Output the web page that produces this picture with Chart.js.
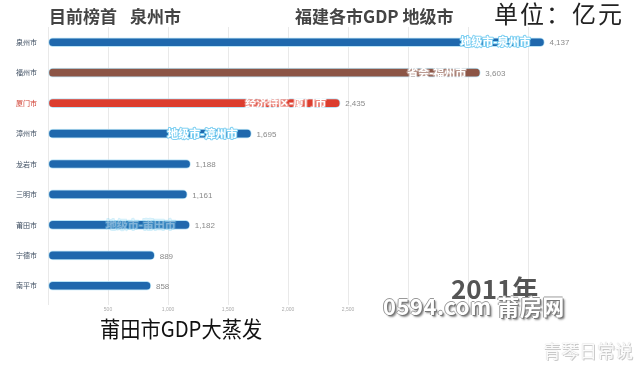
<!DOCTYPE html>
<html>
<head>
<meta charset="utf-8">
<script src="https://cdn.jsdelivr.net/npm/chart.js@4"></script>
<style>
  html, body { margin: 0; padding: 0; background: #fff; }
  #wrap { position: relative; width: 641px; height: 373px; overflow: hidden; font-family: "Noto Sans CJK SC", "Noto Sans", sans-serif; }
  #gdpChart { position: absolute; left: 0; top: 0; }
  .txt { position: absolute; white-space: nowrap; line-height: 1; }
  .head { font-weight: bold; font-size: 17px; color: #444; top: 7px; }
  #unit { left: 494px; top: 1px; font-size: 24px; color: #222; letter-spacing: 2px; }
  #year { left: 451px; top: 275px; font-size: 26px; font-weight: bold; color: #555; }
  #site { left: 383px; top: 294px; font-size: 22px; font-weight: bold; color: #fff; letter-spacing: 0.5px;
          text-shadow: 1px 1px 0 #777, -1px 0 0 #999, 0 -1px 0 #999, 2px 2px 2px #888; }
  #caption { left: 100px; top: 316px; font-size: 22px; color: #111; transform: scaleX(0.92); transform-origin: left top; }
  #mark { left: 543px; top: 341px; font-size: 18px; color: #fbfbfb;
          text-shadow: 0 0 1px #bbb, 1px 1px 0 #ccc; }
</style>
</head>
<body>
<div id="wrap">
  <canvas id="gdpChart" width="641" height="373"></canvas>
  <div class="txt head" style="left:49px">目前榜首</div>
  <div class="txt head" style="left:130px">泉州市</div>
  <div class="txt head" style="left:295px">福建各市GDP 地级市</div>
  <div class="txt" id="unit">单位：亿元</div>
  <div class="txt" id="year">2011年</div>
  <div class="txt" id="site">0594.com 莆房网</div>
  <div class="txt" id="caption">莆田市GDP大蒸发</div>
  <div class="txt" id="mark">青琴日常说</div>
</div>
<script>
// 福建各市GDP（亿元），2011年
const cities = ['泉州市', '福州市', '厦门市', '漳州市', '龙岩市', '三明市', '莆田市', '宁德市', '南平市'];
const gdp = [4137, 3603, 2435, 1695, 1188, 1161, 1182, 889, 858];
const tags = ['地级市-泉州市', '省会-福州市', '经济特区-厦门市', '地级市-漳州市', '', '', '地级市-莆田市', '', ''];
const tickLabels = [500, 1000, 1500, 2000, 2500];

const BLUE = '#1f68ad';
const barColors = [BLUE, '#8c5546', '#dc3d2e', BLUE, BLUE, BLUE, BLUE, BLUE, BLUE];
const tagAlpha = [1, 1, 1, 1, 1, 1, 0.35, 1, 1];

// labels drawn on the bars: name tag inside, value outside
const barLabels = {
    id: 'barLabels',
    afterDatasetsDraw(chart) {
        const ctx = chart.ctx;
        const meta = chart.getDatasetMeta(0);
        meta.data.forEach((bar, i) => {
            ctx.save();
            ctx.textBaseline = 'middle';
            ctx.font = '8px "Liberation Sans", sans-serif';
            ctx.fillStyle = '#8a8a8a';
            ctx.textAlign = 'left';
            ctx.fillText(gdp[i].toLocaleString('en-US'), bar.x + 5, bar.y + 1);

            if (tags[i]) {
                ctx.globalAlpha = tagAlpha[i];
                ctx.font = 'bold 11px "Noto Sans CJK SC", sans-serif';
                ctx.textAlign = 'right';
                ctx.lineJoin = 'round';
                ctx.lineWidth = 2;
                ctx.strokeStyle = barColors[i] === BLUE ? '#7fd0f2' : 'rgba(255,255,255,0.4)';
                ctx.strokeText(tags[i], bar.x - 14, bar.y);
                ctx.fillStyle = '#fff';
                ctx.fillText(tags[i], bar.x - 14, bar.y);
            }
            ctx.restore();
        });
    }
};

new Chart(document.getElementById('gdpChart'), {
    type: 'bar',
    data: {
        labels: cities,
        datasets: [{
            data: gdp,
            backgroundColor: barColors,
            borderColor: 'rgba(180,225,245,0.9)',
            borderWidth: 1,
            borderSkipped: false,
            borderRadius: 6,
            barThickness: 9,
        }]
    },
    options: {
        indexAxis: 'y',
        responsive: false,
        animation: false,
        devicePixelRatio: 1,
        layout: { padding: { left: 0, top: 27, right: 53, bottom: 58 } },
        plugins: {
            legend: { display: false },
            tooltip: { enabled: false }
        },
        scales: {
            x: {
                min: 0,
                max: 4500,
                afterFit: (scale) => { scale.height = 14; },
                border: { display: false },
                grid: {
                    color: (c) => c.tick && c.tick.value >= 4500 ? 'rgba(0,0,0,0)' : '#e9e9e9',
                    tickLength: 4,
                },
                ticks: {
                    stepSize: 500,
                    autoSkip: false,
                    maxRotation: 0,
                    padding: 2,
                    color: '#aaa',
                    font: { size: 5 },
                    callback: (v) => tickLabels.includes(v) ? v.toLocaleString('en-US') : ''
                }
            },
            y: {
                afterFit: (scale) => { scale.width = 48; },
                border: { display: false },
                grid: { display: false },
                ticks: {
                    padding: 3,
                    color: (c) => c.index === 2 ? '#cf3a2c' : '#3d4d60',
                    font: { size: 7, family: '"Noto Sans CJK SC", sans-serif' }
                }
            }
        }
    },
    plugins: [barLabels]
});
</script>
</body>
</html>
